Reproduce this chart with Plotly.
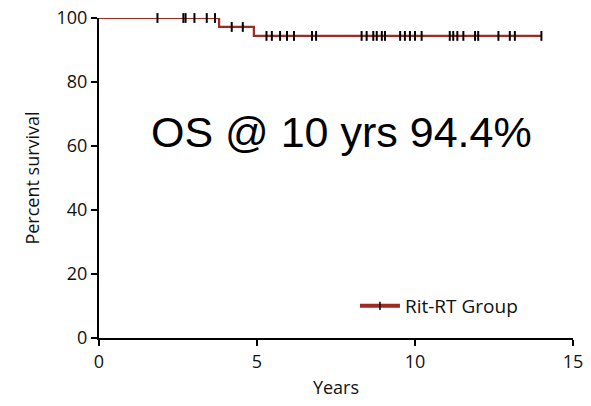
import plotly.graph_objects as go

# Kaplan-Meier overall survival, Rit-RT group
step_times = [0.0, 3.8, 4.9, 14.0]
step_surv = [100.0, 97.2, 94.4, 94.4]

# Censored observations (years)
censor_times = [1.85, 2.67, 2.74, 3.02, 3.41, 3.67,
                4.2, 4.55,
                5.3, 5.47, 5.73, 5.95, 6.17, 6.74, 6.87,
                8.31, 8.47, 8.68, 8.79, 8.95, 9.05,
                9.53, 9.68, 9.84, 10.0, 10.21,
                11.1, 11.21, 11.34, 11.53, 11.9, 12.0,
                12.64, 13.0, 13.16, 14.0]


def surv_at(t):
    s = step_surv[0]
    for tt, ss in zip(step_times, step_surv):
        if t >= tt:
            s = ss
    return s


censor_surv = [surv_at(t) for t in censor_times]

x_ticks = [0, 5, 10, 15]
y_ticks = [0, 20, 40, 60, 80, 100]

RED = "#9e2a22"
AXIS_FONT = "Open Sans, Noto Sans, sans-serif"

fig = go.Figure()

fig.add_trace(go.Scatter(
    x=step_times, y=step_surv, mode="lines",
    line=dict(color=RED, width=2.2, shape="hv"),
    showlegend=False, hoverinfo="skip", cliponaxis=False,
))
fig.add_trace(go.Scatter(
    x=censor_times, y=censor_surv, mode="markers",
    marker=dict(symbol="line-ns", size=7, line=dict(color="black", width=2)),
    showlegend=False, cliponaxis=False,
))
# legend entry: line with a censor tick
fig.add_trace(go.Scatter(
    x=[None], y=[None], mode="lines+markers", name="Rit-RT Group",
    line=dict(color=RED, width=4),
    marker=dict(symbol="line-ns", size=6, color="black",
                line=dict(color="black", width=1.5)),
))

fig.add_annotation(
    x=7.66, y=64.5, xref="x", yref="y", text="OS @ 10 yrs 94.4%",
    showarrow=False, font=dict(family="Liberation Sans, Arial, sans-serif",
                               size=43, color="black"),
)

fig.update_layout(
    width=591, height=406,
    margin=dict(l=99, r=18, t=18, b=68, autoexpand=False),
    paper_bgcolor="white", plot_bgcolor="white",
    font=dict(family=AXIS_FONT, size=18, color="#111111"),
    legend=dict(x=0.54, y=0.10, xanchor="left", yanchor="middle",
                bgcolor="rgba(0,0,0,0)", font=dict(size=19),
                itemwidth=40),
    xaxis=dict(
        range=[0, 15], tickvals=x_ticks, showgrid=False, zeroline=False,
        showline=True, linecolor="black", linewidth=2, automargin=False,
        ticks="outside", ticklen=6, tickwidth=2, tickcolor="black",
        title=dict(text="Years", standoff=10, font=dict(size=18)),
    ),
    yaxis=dict(
        range=[0, 100], tickvals=y_ticks, showgrid=False, zeroline=False,
        showline=True, linecolor="black", linewidth=2, automargin=False,
        ticks="outside", ticklen=6, tickwidth=2, tickcolor="black",
        title=dict(text="Percent survival", standoff=12, font=dict(size=18)),
    ),
)

fig.write_html("out.html")
